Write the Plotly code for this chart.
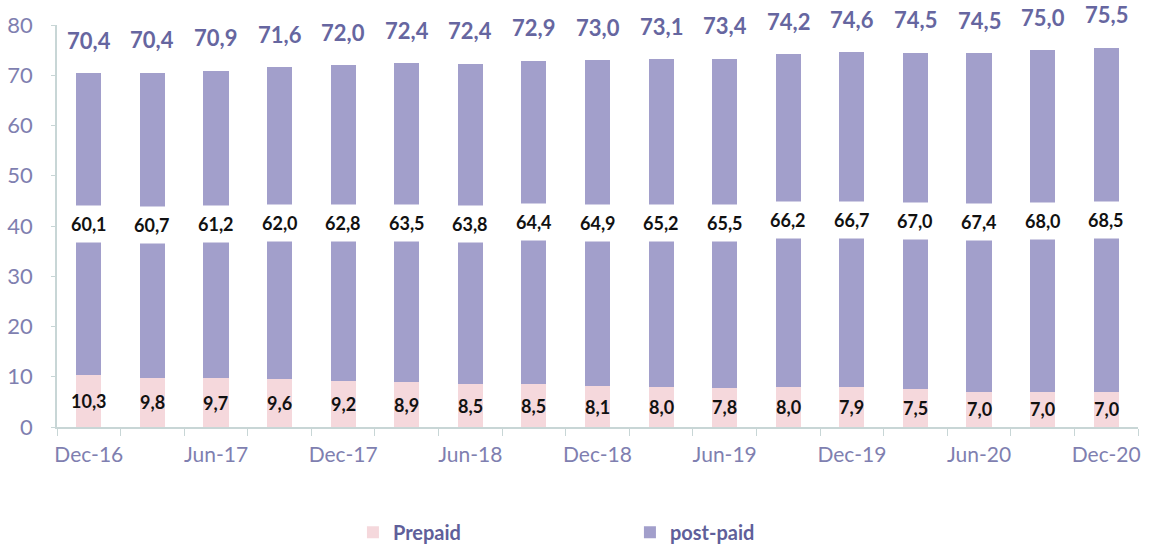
import plotly.graph_objects as go

categories = ["Dec-16", "Mar-17", "Jun-17", "Sep-17", "Dec-17", "Mar-18", "Jun-18", "Sep-18",
              "Dec-18", "Mar-19", "Jun-19", "Sep-19", "Dec-19", "Mar-20", "Jun-20", "Sep-20", "Dec-20"]
prepaid = [10.3, 9.8, 9.7, 9.6, 9.2, 8.9, 8.5, 8.5, 8.1, 8.0, 7.8, 8.0, 7.9, 7.5, 7.0, 7.0, 7.0]
postpaid = [60.1, 60.7, 61.2, 62.0, 62.8, 63.5, 63.8, 64.4, 64.9, 65.2, 65.5, 66.2, 66.7, 67.0, 67.4, 68.0, 68.5]
totals = [70.4, 70.4, 70.9, 71.6, 72.0, 72.4, 72.4, 72.9, 73.0, 73.1, 73.4, 74.2, 74.6, 74.5, 74.5, 75.0, 75.5]
tick_labels = [c if i % 2 == 0 else "" for i, c in enumerate(categories)]

FONT = "Lato"
PRE_COLOR = "#F5D8DC"
POST_COLOR = "#A29FCB"
TICK_COLOR = "#7F7FB0"
TOTAL_COLOR = "#6666A0"
AXIS_COLOR = "#C8D6D6"


def fmt(v):
    return f"{v:.1f}".replace(".", ",")


fig = go.Figure()
fig.add_trace(go.Bar(x=categories, y=prepaid, name="Prepaid", marker_color=PRE_COLOR,
                     marker_line_width=0, width=0.395))
fig.add_trace(go.Bar(x=categories, y=postpaid, name="post-paid", marker_color=POST_COLOR,
                     marker_line_width=0, width=0.395))

annotations = []
for c, pre, post, tot in zip(categories, prepaid, postpaid, totals):
    annotations.append(dict(x=c, y=pre / 2, text=fmt(pre), showarrow=False,
                            font=dict(family=FONT, size=18, color="#111111", weight="bold")))
    annotations.append(dict(x=c, y=pre + post / 2, text=fmt(post), showarrow=False,
                            bgcolor="white", borderpad=7,
                            font=dict(family=FONT, size=18, color="#111111", weight="bold")))
    annotations.append(dict(x=c, y=pre + post, text=fmt(tot), showarrow=False, yshift=33,
                            font=dict(family=FONT, size=22, color=TOTAL_COLOR, weight="bold")))

fig.update_layout(
    width=1151, height=551,
    barmode="stack",
    paper_bgcolor="white", plot_bgcolor="white",
    margin=dict(l=57, r=13, t=25, b=124, autoexpand=False),
    font=dict(family=FONT, color=TICK_COLOR),
    annotations=annotations,
    showlegend=True,
    legend=dict(orientation="h", x=0.53, xanchor="center", y=-0.262, yanchor="middle",
                entrywidth=232, traceorder="normal",
                font=dict(family=FONT, size=20, color="#5F5F9A", weight="bold")),
    xaxis=dict(type="category", tickmode="array", tickvals=categories, ticktext=tick_labels,
               tickson="boundaries", ticks="outside", ticklen=7, tickcolor=AXIS_COLOR,
               tickangle=0, automargin=False, ticklabelstandoff=8,
               showline=True, linecolor=AXIS_COLOR, linewidth=1.5, showgrid=False,
               tickfont=dict(family=FONT, size=21, color=TICK_COLOR), fixedrange=True),
    yaxis=dict(range=[0, 80], dtick=10, ticks="outside", ticklen=4, tickcolor=AXIS_COLOR,
               showline=True, linecolor=AXIS_COLOR, linewidth=1.5, showgrid=False,
               zeroline=False, ticklabelstandoff=14, automargin=False,
               tickfont=dict(family=FONT, size=22, color=TICK_COLOR)),
)

fig.write_html("out.html", config={"displayModeBar": False},
               post_script="document.body.style.margin='0px';")
